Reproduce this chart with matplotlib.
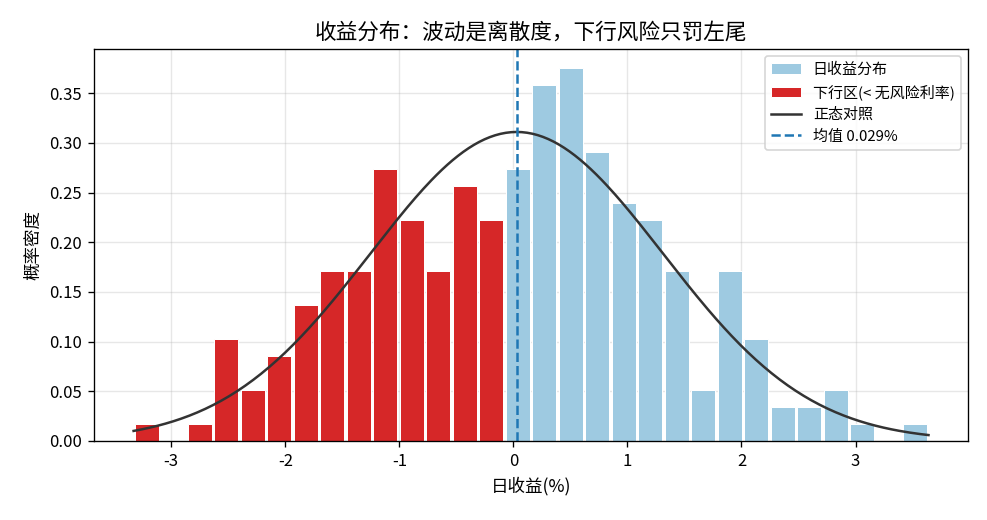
import numpy as np
import matplotlib
matplotlib.use('Agg')
import matplotlib.pyplot as plt

plt.rcParams['font.family'] = ['Noto Sans CJK SC', 'DejaVu Sans']
plt.rcParams['axes.unicode_minus'] = False

# histogram of 252 daily returns (%), 30 bins
bin_lo, bin_hi = -3.33, 3.64
counts = [1, 0, 1, 6, 3, 5, 8, 10, 10, 16, 13, 10, 15, 13,
          16, 21, 22, 17, 14, 13, 10, 3, 10, 6, 2, 2, 3, 1, 0, 1]
ret_mean = 0.029
ret_std = 1.283
rf = 0.0

counts = np.array(counts)
edges = np.linspace(bin_lo, bin_hi, len(counts) + 1)
width = edges[1] - edges[0]
centers = (edges[:-1] + edges[1:]) / 2
dens = counts / (counts.sum() * width)
down = centers < rf

fig, ax = plt.subplots(figsize=(988 / 120, 520 / 120), dpi=120)
fig.subplots_adjust(left=0.095, right=0.98, top=0.906, bottom=0.152)

ax.bar(centers[~down], dens[~down], width=width * 0.9, color='#9ecae1',
       edgecolor='white', linewidth=0.6, label='日收益分布')
ax.bar(centers[down], dens[down], width=width * 0.9, color='#d62728',
       edgecolor='white', linewidth=0.6, label='下行区(< 无风险利率)')

xs = np.linspace(bin_lo, bin_hi, 300)
pdf = np.exp(-0.5 * ((xs - ret_mean) / ret_std) ** 2) / (ret_std * np.sqrt(2 * np.pi))
ax.plot(xs, pdf, color='#333333', lw=1.5, label='正态对照')
ax.axvline(ret_mean, color='#1f77b4', ls='--', lw=1.5, label=f'均值 {ret_mean:.3f}%')

ax.set_title('收益分布：波动是离散度，下行风险只罚左尾', fontsize=13)
ax.set_xlabel('日收益(%)', fontsize=10.5)
ax.set_ylabel('概率密度', fontsize=10.5)
ax.tick_params(labelsize=10)
ax.grid(True, alpha=0.3)
ax.set_axisbelow(True)

h, l = ax.get_legend_handles_labels()
order = [2, 3, 0, 1]
ax.legend([h[i] for i in order], [l[i] for i in order], loc='upper right', fontsize=9)

plt.savefig('out.png')
